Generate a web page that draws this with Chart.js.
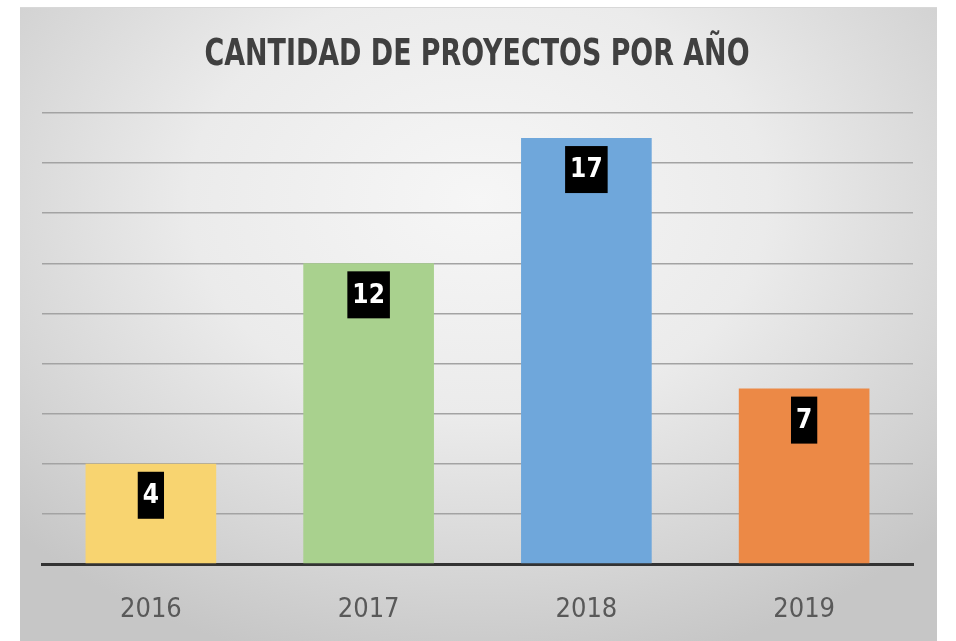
<!DOCTYPE html>
<html lang="es">
<head>
<meta charset="UTF-8">
<title>Cantidad de proyectos por año</title>
<script src="https://cdn.jsdelivr.net/npm/chart.js"></script>
<style>
    body {
        margin: 0;
        background: #ffffff;
        width: 956px;
        height: 641px;
        overflow: hidden;
        position: relative;
    }
    .panel {
        position: absolute;
        left: 20px;
        top: 7px;
        width: 917px;
        height: 640px;
        background: radial-gradient(ellipse 70% 75% at 50% 30%, #f6f6f6 0%, #ebebeb 45%, #d4d4d4 80%, #c6c6c6 100%);
        border-top: 1px solid #d8d8d8;
    }
    #chart {
        position: absolute;
        left: 0;
        top: 0;
    }
</style>
</head>
<body>
<div class="panel"></div>
<canvas id="chart" width="956" height="641"></canvas>

<script>
    const titleText = 'CANTIDAD DE PROYECTOS POR AÑO';
    const years = ['2016', '2017', '2018', '2019'];
    const projects = [4, 12, 17, 7];
    const barColors = ['#f8d470', '#a9d18e', '#6fa7db', '#ec8946'];

    const narrow = "'Liberation Sans Narrow', 'DejaVu Sans Condensed', sans-serif";

    // title drawn by hand so it can be squeezed like the original
    const titlePlugin = {
        id: 'titleDraw',
        afterDraw(chart) {
            const ctx = chart.ctx;
            ctx.save();
            ctx.font = 'bold 38px ' + narrow;
            ctx.fillStyle = '#404040';
            ctx.textAlign = 'center';
            ctx.textBaseline = 'middle';
            const w = ctx.measureText(titleText).width;
            const sx = 545 / w;
            ctx.translate(477, 55);
            ctx.scale(sx, 1);
            ctx.fillText(titleText, 0, 0);
            ctx.restore();
        }
    };

    // black boxes with the values near the top of each bar
    const boxLabels = {
        id: 'boxLabels',
        afterDatasetsDraw(chart) {
            const ctx = chart.ctx;
            const meta = chart.getDatasetMeta(0);
            ctx.save();
            ctx.font = 'bold 26px ' + narrow;
            ctx.textAlign = 'center';
            ctx.textBaseline = 'middle';
            meta.data.forEach((bar, i) => {
                const txt = String(projects[i]);
                const tw = ctx.measureText(txt).width;
                const bw = tw + 10;
                const bh = 47;
                const top = bar.y + 8;
                ctx.fillStyle = '#000000';
                ctx.fillRect(bar.x - bw / 2, top, bw, bh);
                ctx.fillStyle = '#ffffff';
                ctx.fillText(txt, bar.x, top + bh / 2 + 1);
            });
            ctx.restore();
        }
    };

    new Chart(document.getElementById('chart'), {
        type: 'bar',
        data: {
            labels: years,
            datasets: [{
                data: projects,
                backgroundColor: barColors,
                borderWidth: 0,
                barPercentage: 0.6,
                categoryPercentage: 1.0
            }]
        },
        options: {
            responsive: false,
            animation: false,
            layout: {
                padding: { left: 42, right: 43, top: 113, bottom: 0 }
            },
            plugins: {
                legend: { display: false },
                title: { display: false },
                tooltip: { enabled: false }
            },
            scales: {
                y: {
                    min: 0,
                    max: 18,
                    ticks: { display: false, stepSize: 2 },
                    border: { display: false },
                    grid: { color: '#a3a3a3', lineWidth: 1.5, drawTicks: false },
                    afterFit(scale) { scale.width = 0; }
                },
                x: {
                    grid: { display: false },
                    border: { display: true, color: '#333333', width: 3 },
                    ticks: {
                        color: '#595959',
                        font: { family: narrow, size: 27 },
                        padding: 22
                    },
                    afterFit(scale) { scale.height = 77; }
                }
            }
        },
        plugins: [titlePlugin, boxLabels]
    });
</script>
</body>
</html>
